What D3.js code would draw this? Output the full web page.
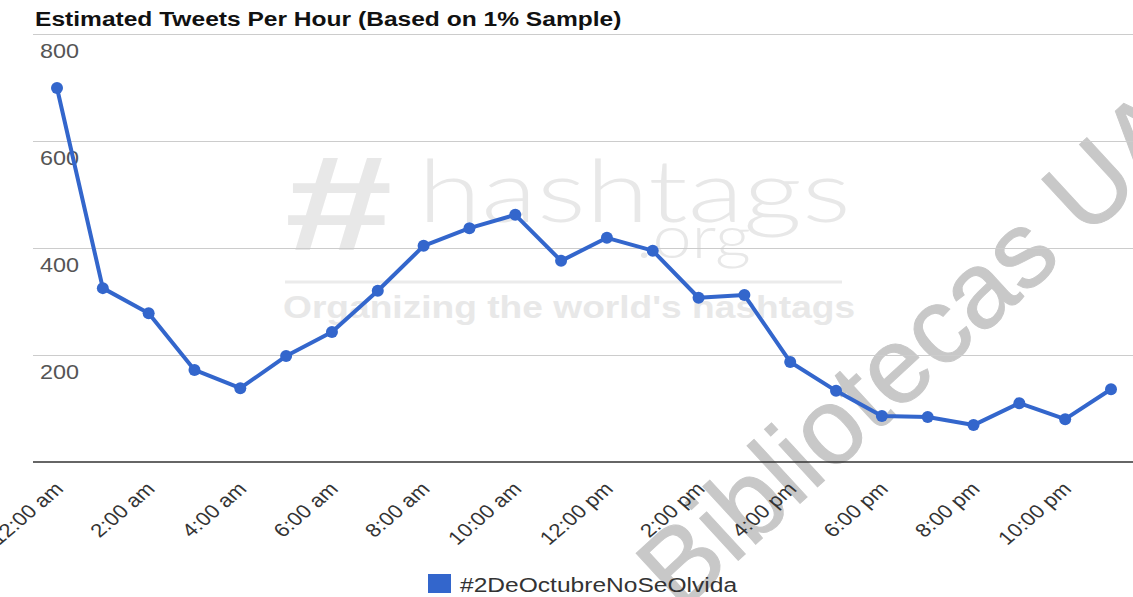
<!DOCTYPE html>
<html>
<head>
<meta charset="utf-8">
<script src="https://cdn.jsdelivr.net/npm/d3@7"></script>
<style>
  body { margin: 0; background: #fff; }
  svg { display: block; font-family: Arial, "Liberation Sans", sans-serif; }
</style>
</head>
<body>
<div id="chart"></div>
<script>
// data
var hourLabels = ["12:00 am", "1:00 am", "2:00 am", "3:00 am", "4:00 am", "5:00 am",
    "6:00 am", "7:00 am", "8:00 am", "9:00 am", "10:00 am", "11:00 am",
    "12:00 pm", "1:00 pm", "2:00 pm", "3:00 pm", "4:00 pm", "5:00 pm",
    "6:00 pm", "7:00 pm", "8:00 pm", "9:00 pm", "10:00 pm", "11:00 pm"];
var tweets = [699, 325, 278, 172, 138, 198, 243, 320, 404, 437, 462, 376,
    419, 395, 307, 312, 187, 133, 86, 84, 69, 110, 80, 136];
var tickLabels = ["12:00 am", "2:00 am", "4:00 am", "6:00 am", "8:00 am", "10:00 am",
    "12:00 pm", "2:00 pm", "4:00 pm", "6:00 pm", "8:00 pm", "10:00 pm"];
var yTicks = [200, 400, 600, 800];
var seriesName = "#2DeOctubreNoSeOlvida";

var svgWidth = 1133;
var svgHeight = 597;
var stretch = 1.17; // the picture is a bit wider than tall

var lineColor = "#3366cc";

var svg = d3.select("#chart")
    .append("svg")
    .attr("width", svgWidth)
    .attr("height", svgHeight);

// scales
var xScale = d3.scalePoint()
    .domain(hourLabels)
    .range([57, 1111]);

var yScale = d3.scaleLinear()
    .domain([0, 800])
    .range([462, 34]);

function wide(x, y) {
    return `translate(${x},${y}) scale(${stretch},1)`;
}

// library stamp across the picture (sits behind the chart)
svg.append("text")
    .attr("transform", "translate(680,614) rotate(-42.7)")
    .attr("font-size", "108px")
    .attr("fill", "#c8c8c8")
    .attr("stroke", "#c8c8c8")
    .attr("stroke-width", 1)
    .text("Bibliotecas UA");

// hashtags.org watermark
var wm = svg.append("g").attr("fill", "#e8e8e8");
wm.append("text")
    .attr("transform", wide(282, 250))
    .attr("font-size", "136px")
    .attr("font-weight", "bold")
    .attr("font-style", "italic")
    .attr("textLength", 92)
    .attr("lengthAdjust", "spacingAndGlyphs")
    .text("#");
wm.append("text")
    .attr("transform", wide(418, 222))
    .attr("font-size", "86px")
    .attr("font-family", "Lato, 'DejaVu Sans', sans-serif")
    .attr("font-weight", "300")
    .attr("textLength", 370)
    .attr("lengthAdjust", "spacingAndGlyphs")
    .text("hashtags");
wm.append("text")
    .attr("transform", wide(636, 258))
    .attr("font-size", "60px")
    .attr("font-family", "Lato, 'DejaVu Sans', sans-serif")
    .attr("font-weight", "300")
    .text(".org");
wm.append("line")
    .attr("x1", 285).attr("x2", 842)
    .attr("y1", 282).attr("y2", 282)
    .attr("stroke", "#ebebeb")
    .attr("stroke-width", 3);
wm.append("text")
    .attr("transform", wide(283, 318))
    .attr("font-size", "32px")
    .attr("font-weight", "bold")
    .attr("textLength", 489)
    .attr("lengthAdjust", "spacingAndGlyphs")
    .text("Organizing the world's hashtags");

// gridlines + y labels
var yAxis = d3.axisRight(yScale)
    .tickValues(yTicks)
    .tickSize(1100)
    .tickFormat(d3.format("d"));

var yG = svg.append("g")
    .attr("transform", "translate(33,0)")
    .call(yAxis);
yG.select(".domain").remove();
yG.selectAll(".tick line").attr("stroke", "#cccccc");
yG.selectAll(".tick text")
    .attr("x", null).attr("dy", null)
    .attr("transform", wide(7, 23))
    .attr("text-anchor", "start")
    .attr("fill", "#555")
    .attr("font-size", "20px");

// baseline + x labels
var xAxis = d3.axisBottom(xScale)
    .tickValues(tickLabels)
    .tickSize(0);

var xG = svg.append("g")
    .attr("transform", "translate(0,462)")
    .call(xAxis);
xG.select(".domain")
    .attr("d", "M33,0H1133")
    .attr("stroke", "#333")
    .attr("stroke-width", 1.5);
xG.selectAll(".tick text")
    .attr("y", null).attr("dy", null)
    .attr("transform", wide(7, 28) + " rotate(-45)")
    .attr("text-anchor", "end")
    .attr("fill", "#333")
    .attr("font-size", "19px");

// series line
var line = d3.line()
    .x((d, i) => xScale(hourLabels[i]))
    .y(d => yScale(d));

svg.append("path")
    .datum(tweets)
    .attr("d", line)
    .attr("fill", "none")
    .attr("stroke", lineColor)
    .attr("stroke-width", 4)
    .attr("stroke-linejoin", "round");

svg.append("g")
    .selectAll("circle")
    .data(tweets)
    .enter()
    .append("circle")
    .attr("cx", (d, i) => xScale(hourLabels[i]))
    .attr("cy", d => yScale(d))
    .attr("r", 6)
    .attr("fill", lineColor);

// title
svg.append("text")
    .attr("transform", wide(35, 26))
    .attr("font-size", "21px")
    .attr("font-weight", "bold")
    .attr("fill", "#111")
    .text("Estimated Tweets Per Hour (Based on 1% Sample)");

// legend
svg.append("rect")
    .attr("x", 428).attr("y", 574)
    .attr("width", 23).attr("height", 19)
    .attr("fill", lineColor);
svg.append("text")
    .attr("transform", wide(460, 592))
    .attr("font-size", "21px")
    .attr("fill", "#333")
    .text(seriesName);
</script>
</body>
</html>
